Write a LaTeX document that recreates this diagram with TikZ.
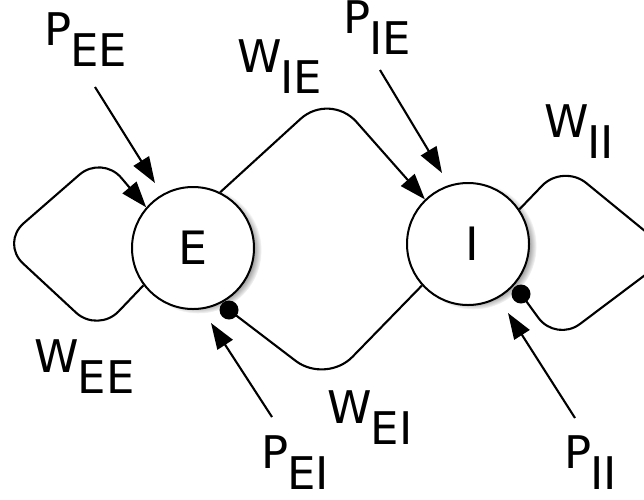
\documentclass[tikz,border=0pt]{standalone}
\usepackage{fontspec}
\setmainfont{DejaVu Sans}
\usetikzlibrary{arrows.meta,shadows}

% main letter with a dropped subscript of the same size
\newcommand\sublabel[2]{#1\kern-1pt\raisebox{-21pt}{#2}}

\begin{document}
\begin{tikzpicture}[x=1pt,y=-1pt,
  wire/.style={line width=2.1pt, line join=round},
  tip/.style={-{Triangle[length=26pt,width=18pt]}},
  pop/.style={circle, draw, line width=2pt, fill=white, minimum size=122pt,
    inner sep=0pt, font=\fontsize{46}{46}\selectfont,
    circular drop shadow={shadow xshift=5pt, shadow yshift=-2pt,
      shadow scale=1.04, opacity=0.9}},
  lbl/.style={anchor=base west, inner sep=0pt, font=\fontsize{45}{45}\selectfont},
  dot/.style={circle, fill=black, minimum size=19pt, inner sep=0pt}
]
\useasboundingbox (0,0) rectangle (644,499);

% populations
\node[pop] (E) at (193,248) {E};
\node[pop] (I) at (468,244) {\kern9pt I};

% inhibitory synapse ends
\node[dot] (dEI) at (229,310) {};
\node[dot] (dII) at (521,294) {};

% free ends of the external inputs
\coordinate (pEE0) at (95,87);   \coordinate (pEE1) at (155,183);
\coordinate (pIE0) at (380,70);  \coordinate (pIE1) at (442,173);
\coordinate (pEI0) at (272,417); \coordinate (pEI1) at (211,323);
\coordinate (pII0) at (575,418); \coordinate (pII1) at (508,313);

% recurrent and cross connections
\draw[wire, tip, rounded corners=30pt]
  (E.217) -- (98,333) -- (1,243) -- (102,155) -- (E.139);
\draw[wire, tip, rounded corners=40pt]
  (E.64) -- (330,92) -- (I.134);
\draw[wire, rounded corners=38pt]
  (I.222) -- (326,384) -- (dEI.center);
\draw[wire, rounded corners=30pt]
  (I.34) -- (563,164) -- (673,254) -- (556,342) -- (dII.center);

% external inputs
\draw[wire, tip] (pEE0) -- (pEE1);
\draw[wire, tip] (pIE0) -- (pIE1);
\draw[wire, tip] (pEI0) -- (pEI1);
\draw[wire, tip] (pII0) -- (pII1);

% labels
\node[lbl] (lPEE) at (44,45)   {\sublabel{P}{EE}};
\node[lbl] (lWIE) at (237,72)  {\sublabel{W}{IE}};
\node[lbl] (lPIE) at (343,33)  {\sublabel{P}{IE}};
\node[lbl] (lWII) at (544,137) {\sublabel{W}{II}};
\node[lbl] (lWEE) at (34,372)  {\sublabel{W}{EE}};
\node[lbl] (lWEI) at (327,423) {\sublabel{W}{EI}};
\node[lbl] (lPEI) at (261,468) {\sublabel{P}{EI}};
\node[lbl] (lPII) at (564,468) {\sublabel{P}{II}};
\end{tikzpicture}
\end{document}
